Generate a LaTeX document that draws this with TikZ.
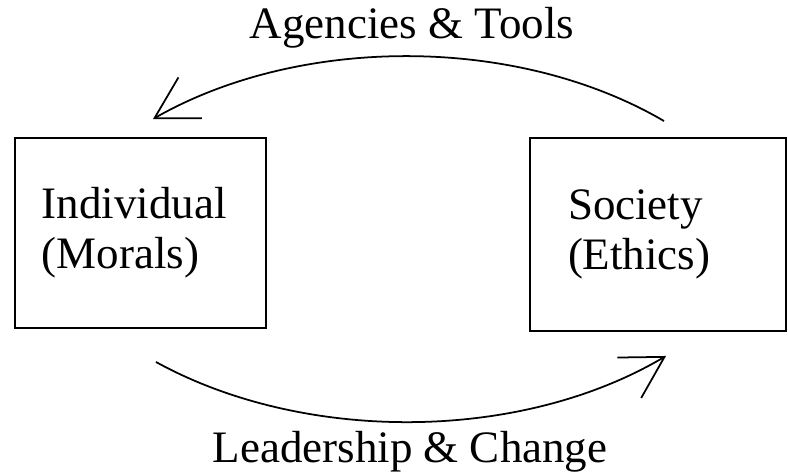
\documentclass[tikz,border=0pt]{standalone}
\usepackage{fontspec}
\setmainfont{Liberation Serif}
\usetikzlibrary{arrows.meta,positioning,calc}
\tikzset{
  conceptbox/.style={draw=black, line width=1.1pt, align=left, text width=#1,
    font=\fontsize{25.6}{28.5}\selectfont, inner ysep=0pt},
  conceptbox/.default=3.6cm,
  cyclearr/.style={-{Straight Barb[length=0.82cm, width=0.94cm]}, line width=1pt, black},
  cyclelabel/.style={anchor=base, font=\fontsize{25.6}{28.5}\selectfont, inner sep=0pt},
}
\begin{document}
\begin{tikzpicture}
  \useasboundingbox (0,0) rectangle (15.76,-9.44);
  \node[conceptbox=3.94cm, inner xsep=0.54cm, minimum height=3.80cm] (individual) at (2.81,-4.66) {Individual\\(Morals)};
  \node[conceptbox=3.60cm, inner xsep=0.76cm, minimum height=3.86cm] (society) at (13.16,-4.69) {Society\\(Ethics)};
  % ends of the two arcs, just off the box corners
  \coordinate (topstart) at ([shift={(2.70,0.32)}]society.north west);
  \coordinate (topend) at ([shift={(-2.28,0.36)}]individual.north east);
  \coordinate (botstart) at ([shift={(-2.22,-0.66)}]individual.south east);
  \coordinate (botend) at ([shift={(2.74,-0.48)}]society.south west);
  \draw[cyclearr] (topstart) .. controls +(-2.94,1.72) and +(2.94,1.68) .. (topend);
  \draw[cyclearr] (botstart) .. controls +(2.94,-1.62) and +(-2.94,-1.74) .. (botend);
  \node[cyclelabel] (agencies) at (8.24,-0.78) {Agencies \& Tools};
  \node[cyclelabel] (leadership) at (8.20,-9.24) {Leadership \& Change};
\end{tikzpicture}
\end{document}
